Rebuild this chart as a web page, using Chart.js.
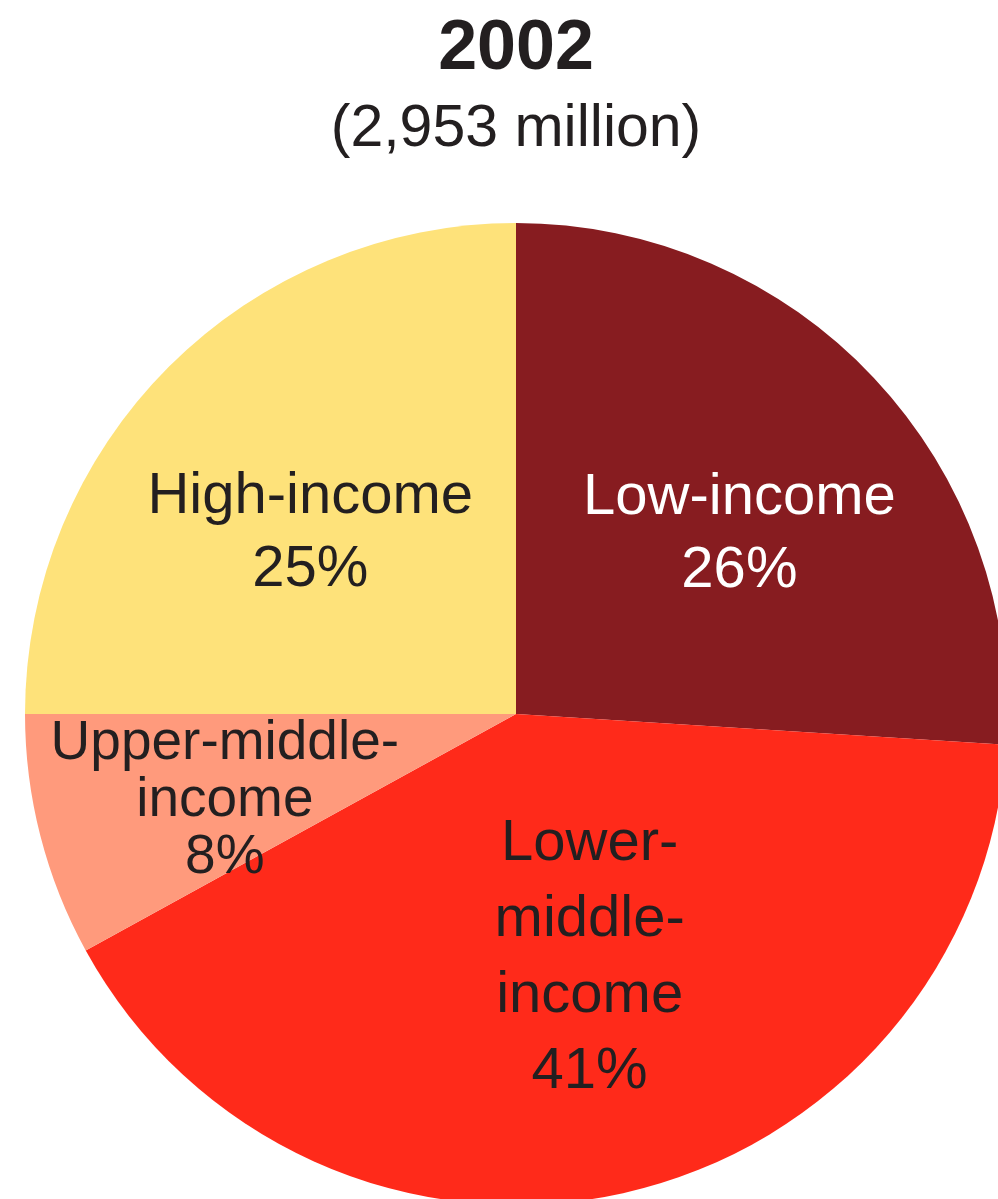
<!DOCTYPE html>
<html>
<head>
<meta charset="utf-8">
<script src="https://cdn.jsdelivr.net/npm/chart.js@4.4.1/dist/chart.umd.min.js"></script>
<style>
html, body { margin:0; padding:0; overflow:hidden; background:#ffffff; }
canvas { display:block; }
</style>
</head>
<body>
<canvas id="pie_2002" width="1032" height="1205"></canvas>
<script>
//data
const kategorier = ['Low-income', 'Lower-middle-income', 'Upper-middle-income', 'High-income'];
const andelar = [26, 41, 8, 25];
const namn_rader = [['Low-income'], ['Lower-', 'middle-', 'income'], ['Upper-middle-', 'income'], ['High-income']];
const farger = ['#871c20', '#ff2a1a', '#ff9a7c', '#fee27a'];
const titel = '2002';
const undertitel = '(2,953 million)';

//placering av etiketter relativt tårtans mitt (andel av radien)
const etikett_layout = [
    {fx: 0.455, fy: -0.365, size: 58, rad: 73, color: '#ffffff'},
    {fx: 0.150, fy: 0.497, size: 58, rad: 76, color: '#231f20'},
    {fx: -0.593, fy: 0.177, size: 55, rad: 57, color: '#231f20'},
    {fx: -0.419, fy: -0.367, size: 58, rad: 73, color: '#231f20'}
];
const typsnitt = '"Liberation Sans", Arial, sans-serif';

//ritar text inne i varje tårtbit
const etikett_plugin = {
    id: 'etiketter',
    afterDatasetsDraw(chart)
    {
        const ctx = chart.ctx;
        chart.getDatasetMeta(0).data.forEach((arc, i) => {
            const lay = etikett_layout[i];
            const rader = namn_rader[i].concat([andelar[i] + '%']);
            const cx = arc.x + lay.fx * arc.outerRadius;
            const cy = arc.y + lay.fy * arc.outerRadius;
            ctx.save();
            ctx.font = lay.size + 'px ' + typsnitt;
            ctx.fillStyle = lay.color;
            ctx.textAlign = 'center';
            ctx.textBaseline = 'middle';
            const start = cy - (rader.length - 1) * lay.rad / 2;
            rader.forEach((text, j) => ctx.fillText(text, cx, start + j * lay.rad));
            ctx.restore();
        });
    }
};

new Chart(document.getElementById('pie_2002'), {
    type: 'pie',
    data: {
        labels: kategorier,
        datasets: [{
            data: andelar,
            backgroundColor: farger,
            borderWidth: 0,
            hoverOffset: 0
        }]
    },
    options: {
        responsive: false,
        animation: false,
        events: [],
        layout: {padding: 0},
        plugins: {
            legend: {display: false},
            tooltip: {enabled: false},
            title: {
                display: true,
                text: titel,
                color: '#231f20',
                font: {family: typsnitt, size: 70, weight: 'bold', lineHeight: 1},
                padding: {top: 15, bottom: 0}
            },
            subtitle: {
                display: true,
                text: undertitel,
                color: '#231f20',
                font: {family: typsnitt, size: 59, weight: 'normal', lineHeight: 1},
                padding: {top: 15, bottom: 64}
            }
        }
    },
    plugins: [etikett_plugin]
});
</script>
</body>
</html>
